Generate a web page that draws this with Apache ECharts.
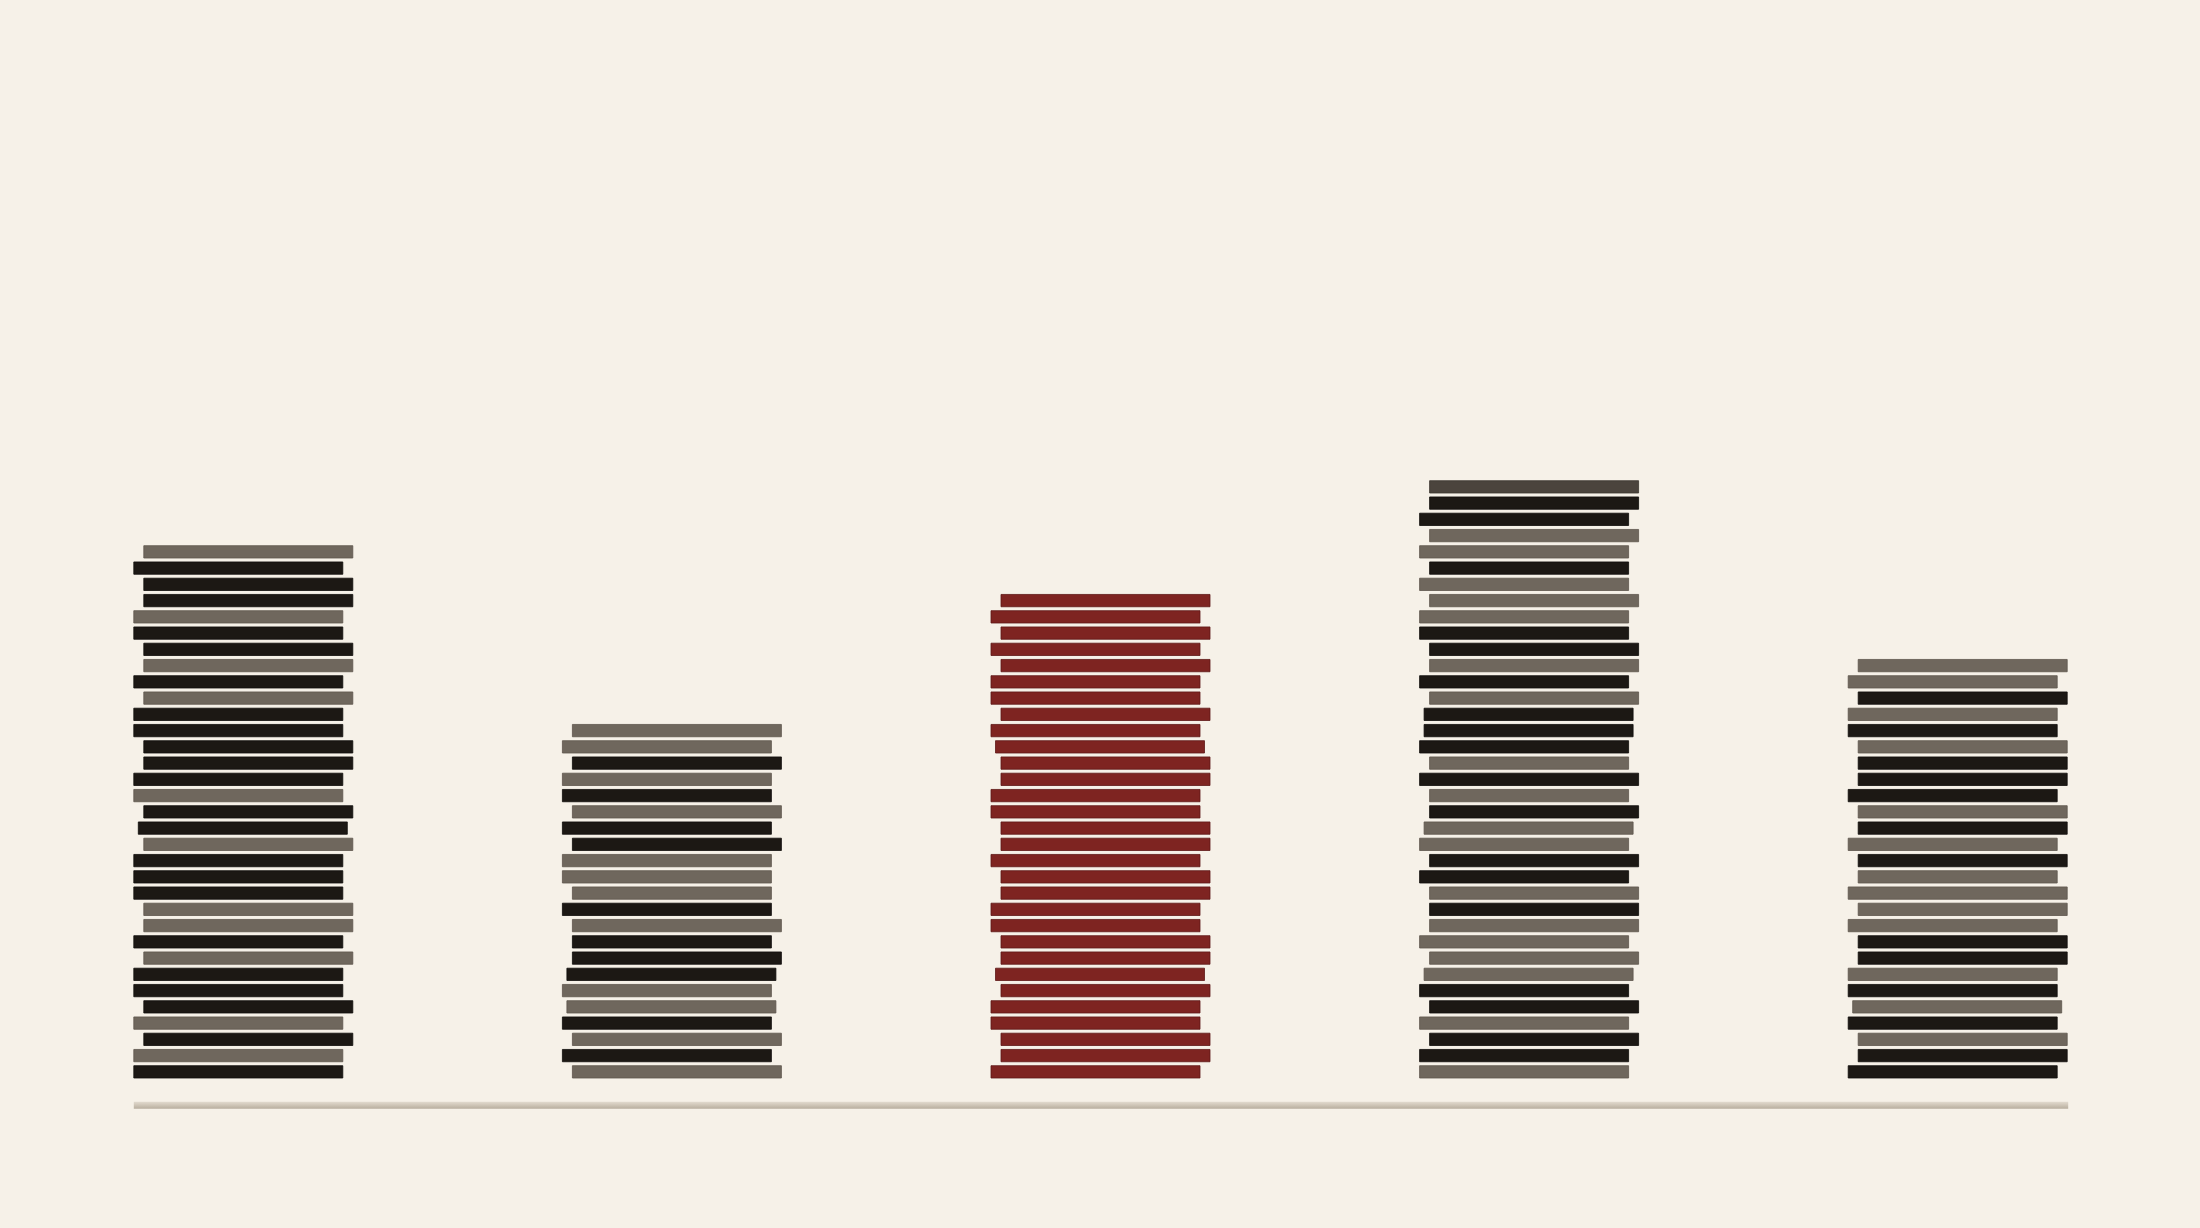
<!DOCTYPE html>
<html>
<head>
<meta charset="utf-8">
<style>
html,body{margin:0;padding:0;background:#f6f1e8;}
#chart{width:2200px;height:1228px;}
</style>
<script src="https://cdn.jsdelivr.net/npm/echarts@6/dist/echarts.min.js"></script>
</head>
<body>
<div id="chart"></div>
<script>
// Categories (stacks), left to right
const categories = ['I', 'II', 'III', 'IV', 'V'];

// Each stack listed top to bottom; code = tone + lean
// tone: d = dark, g = grey, m = mid-dark, r = red
// lean: L = left, R = right, N = narrow, W = wide, M = middle
const stackI = ['gR','dL','dR','dR','gL','dL','dR','gR','dL','gR','dL','dL','dR','dR','dL','gL','dR','dM','gR','dL','dL','dL','gR','gR','dL','gR','dL','dL','dR','gL','dR','gL','dL'];
const stackII = ['gR','gL','dR','gL','dL','gR','dL','dR','gL','gL','gN','dL','gR','dN','dR','dM','gL','gM','dL','gR','dL','gR'];
const stackIII = ['rR','rL','rR','rL','rR','rL','rL','rR','rL','rM','rR','rR','rL','rL','rR','rR','rL','rR','rR','rL','rL','rR','rR','rM','rR','rL','rL','rR','rR','rL'];
const stackIV = ['mR','dR','dL','gR','gL','dN','gL','gR','gL','dL','dR','gR','dL','gR','dM','dM','dL','gN','dW','gN','dR','gM','gL','dR','dL','gR','dR','gR','gL','gR','gM','dL','dR','gL','dR','dL','gL'];
const stackV = ['gR','gL','dR','gL','dL','gR','dR','dR','dL','gR','dR','gL','dR','gN','gW','gR','gL','dR','dR','gL','dL','gM','dL','gR','dR','dL'];

const stacks = [stackI, stackII, stackIII, stackIV, stackV];
const bookCounts = stacks.map(s => s.length);

// ---- build data for the library ----
const bookData = [];
const bookCodes = [];
stacks.forEach((stack, s) => {
  const n = stack.length;
  stack.forEach((code, k) => {
    bookData.push([s, n - 1 - k]);
    bookCodes.push(code);
  });
});

// ---- styles ----
const TONE = { d: '#1c1814', g: '#6f675d', m: '#4b443d', r: '#7e2421' };
const EDGE = { d: '#0f0c0a', g: '#5e564d', m: '#3b352f', r: '#5e1816' };
const LEAN = {
  L: [-109.5, 99.5],
  R: [-99.5, 109.5],
  N: [-99.5, 99.5],
  W: [-109.5, 109.5],
  M: [-105, 104]
};

function bookRender(params, api) {
  const code = bookCodes[params.dataIndex];
  const p = api.coord([api.value(0), api.value(1)]);
  const pitch = api.size([0, 1])[1];
  const h = pitch * 0.757;
  const e = LEAN[code[1]];
  return {
    type: 'rect',
    shape: { x: p[0] + e[0], y: p[1] - h, width: e[1] - e[0], height: h },
    style: { fill: TONE[code[0]], stroke: EDGE[code[0]], lineWidth: 0.8 }
  };
}

function shelfRender(params, api) {
  const a = api.coord([api.value(0), 0]);
  const b = api.coord([api.value(1), 0]);
  const x0 = a[0] - 109.5;
  const x1 = b[0] + 110.5;
  return {
    type: 'rect',
    shape: { x: x0, y: a[1] + 23.7, width: x1 - x0, height: 7 },
    style: {
      fill: new echarts.graphic.LinearGradient(0, 0, 0, 1, [
        { offset: 0, color: '#e2dbcf' },
        { offset: 0.45, color: '#d0c7b9' },
        { offset: 1, color: '#b8ae9f' }
      ])
    }
  };
}

const chart = echarts.init(document.getElementById('chart'), null, { renderer: 'canvas' });
chart.setOption({
  backgroundColor: '#f6f1e8',
  animation: false,
  tooltip: { show: false },
  grid: { left: 29, right: 28, top: 428, bottom: 150 },
  xAxis: { type: 'category', data: categories, show: false },
  yAxis: { type: 'value', min: 0, max: 40, show: false },
  series: [
    {
      type: 'custom',
      name: 'shelf',
      silent: true,
      z: 1,
      data: [[0, categories.length - 1]],
      encode: { x: [0, 1] },
      renderItem: shelfRender
    },
    {
      type: 'custom',
      name: 'books',
      z: 2,
      data: bookData,
      encode: { x: 0, y: 1 },
      renderItem: bookRender
    }
  ]
});
</script>
</body>
</html>
